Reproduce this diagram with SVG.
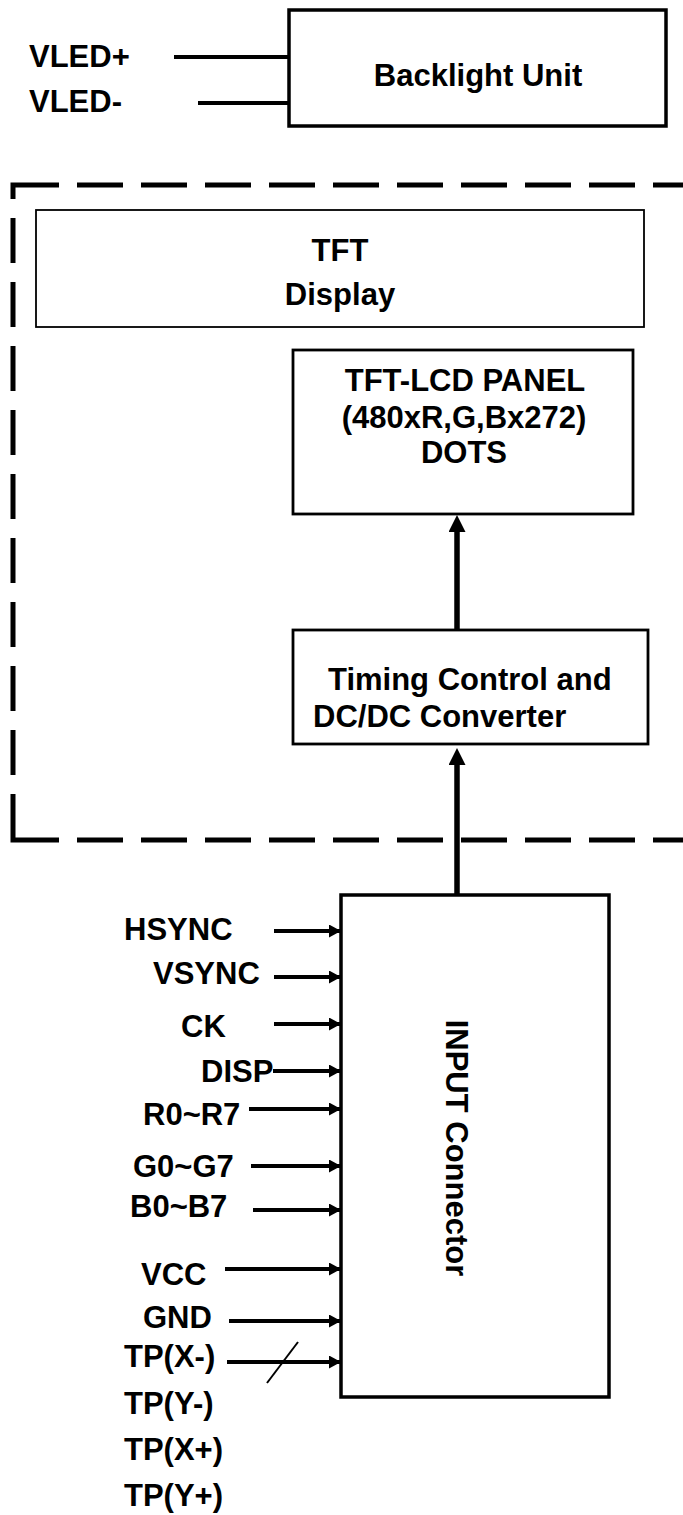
<svg xmlns="http://www.w3.org/2000/svg" width="683" height="1515" viewBox="0 0 683 1515">
<style>
text{font-family:"Liberation Sans",Arial,sans-serif;font-weight:bold;font-size:31px;fill:#000}
.box{fill:#fff;stroke:#000}
.wire{stroke:#000;stroke-width:3.8;fill:none}
.bus{stroke:#000;stroke-width:5.5;fill:none}
.dash{stroke:#000;stroke-width:5;fill:none}
.c{text-anchor:middle}
</style>
<defs>
<marker id="ah" markerUnits="userSpaceOnUse" markerWidth="12" markerHeight="13" refX="12" refY="6.5" orient="auto"><path d="M0,0 L12,6.5 L0,13 z" fill="#000"/></marker>
<marker id="big" markerUnits="userSpaceOnUse" markerWidth="17" markerHeight="17" refX="9" refY="8.5" orient="auto"><path d="M0,0 L17,8.5 L0,17 z" fill="#000"/></marker>
</defs>
<rect width="683" height="1515" fill="#fff"/>
<g id="module-frame">
<path class="dash" d="M13,199 V185 H59"/>
<path class="dash" d="M13,794 V840 H59"/>
<path class="dash" d="M77,185 H700" stroke-dasharray="46 18"/>
<path class="dash" d="M77,840 H700" stroke-dasharray="46 18"/>
<path class="dash" d="M13,218 V775" stroke-dasharray="45 19"/>
</g>
<g id="backlight">
<rect class="box" x="289" y="10" width="377" height="116" stroke-width="3.5"/>
<text class="c" x="478" y="86">Backlight Unit</text>
</g>
<g id="tft-display">
<rect class="box" x="36" y="210" width="608" height="117" stroke-width="1.8"/>
<text class="c" x="340" y="261">TFT</text>
<text class="c" x="340" y="305">Display</text>
</g>
<g id="panel">
<rect class="box" x="293" y="350" width="340" height="164" stroke-width="2.8"/>
<text class="c" x="465" y="391">TFT-LCD PANEL</text>
<text class="c" x="464" y="428">(480xR,G,Bx272)</text>
<text class="c" x="464" y="463">DOTS</text>
</g>
<g id="timing">
<rect class="box" x="293" y="630" width="355" height="114" stroke-width="2.8"/>
<text x="328" y="690">Timing Control and</text>
<text x="313" y="727">DC/DC Converter</text>
</g>
<g id="input-connector">
<rect class="box" x="341" y="895" width="268" height="502" stroke-width="3.5"/>
<text class="c" transform="translate(446,1148) rotate(90)">INPUT Connector</text>
</g>
<g id="labels">
<text x="29" y="67">VLED+</text>
<text x="29" y="112">VLED-</text>
<text x="124" y="940">HSYNC</text>
<text x="153" y="984">VSYNC</text>
<text x="181" y="1037">CK</text>
<text x="201" y="1082">DISP</text>
<text x="143" y="1125">R0~R7</text>
<text x="133" y="1177">G0~G7</text>
<text x="130" y="1217">B0~B7</text>
<text x="141" y="1285">VCC</text>
<text x="143" y="1328">GND</text>
<text x="124" y="1367">TP(X-)</text>
<text x="124" y="1414">TP(Y-)</text>
<text x="124" y="1460">TP(X+)</text>
<text x="124" y="1506">TP(Y+)</text>
</g>
<g id="connectors">
<line class="wire" x1="174" y1="57" x2="290" y2="57"/>
<line class="wire" x1="198" y1="103" x2="290" y2="103"/>
<line class="bus" x1="457" y1="630" x2="457" y2="523" marker-end="url(#big)"/>
<line class="bus" x1="457" y1="895" x2="457" y2="756" marker-end="url(#big)"/>
<line class="wire" x1="274" y1="931" x2="341" y2="931" marker-end="url(#ah)"/>
<line class="wire" x1="274" y1="977" x2="341" y2="977" marker-end="url(#ah)"/>
<line class="wire" x1="274" y1="1024" x2="341" y2="1024" marker-end="url(#ah)"/>
<line class="wire" x1="273" y1="1071" x2="341" y2="1071" marker-end="url(#ah)"/>
<line class="wire" x1="249" y1="1109" x2="341" y2="1109" marker-end="url(#ah)"/>
<line class="wire" x1="251" y1="1166" x2="341" y2="1166" marker-end="url(#ah)"/>
<line class="wire" x1="253" y1="1210" x2="341" y2="1210" marker-end="url(#ah)"/>
<line class="wire" x1="225" y1="1269" x2="341" y2="1269" marker-end="url(#ah)"/>
<line class="wire" x1="229" y1="1321" x2="341" y2="1321" marker-end="url(#ah)"/>
<line class="wire" x1="227" y1="1362" x2="341" y2="1362" marker-end="url(#ah)"/>
<line stroke="#000" stroke-width="2" x1="267" y1="1383" x2="298" y2="1342"/>
</g>
</svg>
